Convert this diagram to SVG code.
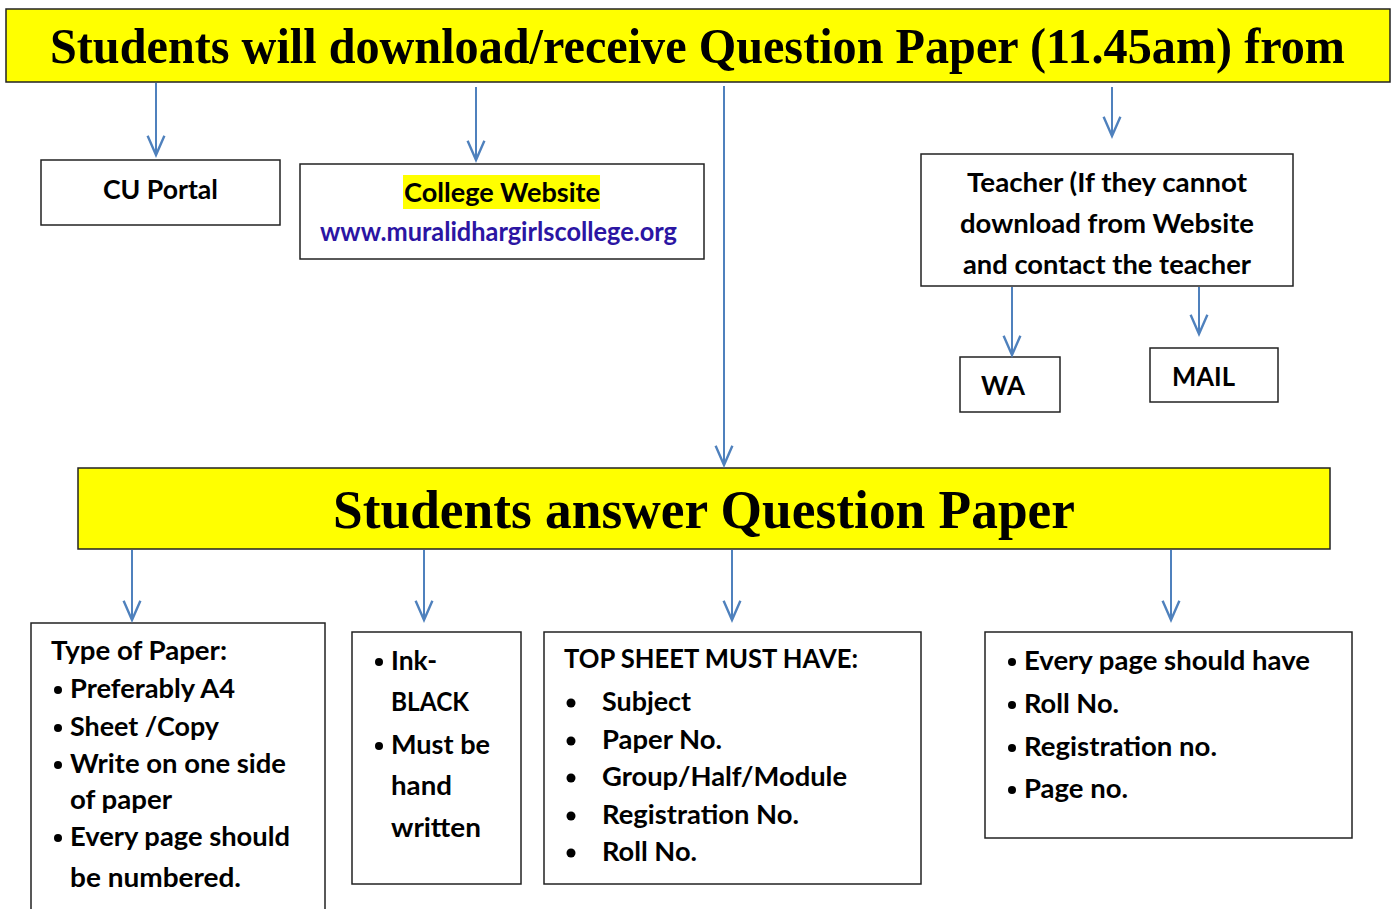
<svg xmlns="http://www.w3.org/2000/svg" width="1392" height="909" viewBox="0 0 1392 909">
<style>
.banner{fill:#ffff00;stroke:#222;stroke-width:1.5}
.box{fill:#fff;stroke:#222;stroke-width:1.5}
.hd{font-family:"Liberation Serif","Times New Roman",serif;font-weight:bold;fill:#000}
.t{font-family:Lato,"Liberation Sans",sans-serif;font-weight:bold;font-size:26px;fill:#000}
.url{fill:#2b15a3}
.bul{fill:#000}
.conn line{stroke:#4f81bd;stroke-width:2;fill:none}
</style>
<defs>
<marker id="ah" markerUnits="userSpaceOnUse" markerWidth="24" markerHeight="24" refX="0" refY="0" viewBox="-18 -10 20 20" orient="auto" overflow="visible">
<path d="M-16,-7 L0,0 L-16,7" fill="none" stroke="#4f81bd" stroke-width="2"/>
</marker>
</defs>
<rect width="1392" height="909" fill="#fff"/>

<g id="top-banner">
<rect class="banner" x="6" y="9" width="1384" height="73"/>
<text class="hd" x="50" y="63" font-size="50" textLength="1295" lengthAdjust="spacingAndGlyphs">Students will download/receive Question Paper (11.45am) from</text>
</g>

<g id="cu-portal">
<rect class="box" x="41" y="160" width="239" height="65"/>
<text class="t" x="103" y="199" textLength="115" lengthAdjust="spacingAndGlyphs">CU Portal</text>
</g>

<g id="college-website">
<rect class="box" x="300" y="164" width="404" height="95"/>
<rect x="403" y="175" width="197" height="34" fill="#ffff00"/>
<text class="t" x="404" y="202" textLength="196" lengthAdjust="spacingAndGlyphs">College Website</text>
<text class="t url" x="320" y="241" font-size="24" textLength="357" lengthAdjust="spacingAndGlyphs">www.muralidhargirlscollege.org</text>
</g>

<g id="teacher">
<rect class="box" x="921" y="154" width="372" height="132"/>
<text class="t" x="967" y="192" textLength="280" lengthAdjust="spacingAndGlyphs">Teacher (If they cannot</text>
<text class="t" x="960" y="233" textLength="294" lengthAdjust="spacingAndGlyphs">download from Website</text>
<text class="t" x="963" y="274" textLength="288" lengthAdjust="spacingAndGlyphs">and contact the teacher</text>
</g>

<g id="wa">
<rect class="box" x="960" y="357" width="100" height="55"/>
<text class="t" x="981" y="395" textLength="44" lengthAdjust="spacingAndGlyphs">WA</text>
</g>

<g id="mail">
<rect class="box" x="1150" y="348" width="128" height="54"/>
<text class="t" x="1172" y="386" textLength="63" lengthAdjust="spacingAndGlyphs">MAIL</text>
</g>

<g id="answer-banner">
<rect class="banner" x="78" y="468" width="1252" height="81"/>
<text class="hd" x="333" y="528" font-size="54" textLength="742" lengthAdjust="spacingAndGlyphs">Students answer Question Paper</text>
</g>

<g id="type-of-paper">
<rect class="box" x="31" y="623" width="294" height="300"/>
<text class="t" x="51" y="660" textLength="176" lengthAdjust="spacingAndGlyphs">Type of Paper:</text>
<circle class="bul" cx="58" cy="690" r="4"/>
<text class="t" x="70" y="698" textLength="165" lengthAdjust="spacingAndGlyphs">Preferably A4</text>
<circle class="bul" cx="58" cy="728" r="4"/>
<text class="t" x="70" y="736" textLength="149" lengthAdjust="spacingAndGlyphs">Sheet /Copy</text>
<circle class="bul" cx="58" cy="765" r="4"/>
<text class="t" x="70" y="773" textLength="216" lengthAdjust="spacingAndGlyphs">Write on one side</text>
<text class="t" x="70" y="809" textLength="102" lengthAdjust="spacingAndGlyphs">of paper</text>
<circle class="bul" cx="58" cy="838" r="4"/>
<text class="t" x="70" y="846" textLength="220" lengthAdjust="spacingAndGlyphs">Every page should</text>
<text class="t" x="70" y="887" textLength="171" lengthAdjust="spacingAndGlyphs">be numbered.</text>
</g>

<g id="ink">
<rect class="box" x="352" y="632" width="169" height="252"/>
<circle class="bul" cx="379" cy="662" r="4"/>
<text class="t" x="391" y="670" textLength="46" lengthAdjust="spacingAndGlyphs">Ink-</text>
<text class="t" x="391" y="711" textLength="78" lengthAdjust="spacingAndGlyphs">BLACK</text>
<circle class="bul" cx="379" cy="746" r="4"/>
<text class="t" x="391" y="754" textLength="99" lengthAdjust="spacingAndGlyphs">Must be</text>
<text class="t" x="391" y="795" textLength="61" lengthAdjust="spacingAndGlyphs">hand</text>
<text class="t" x="391" y="837" textLength="90" lengthAdjust="spacingAndGlyphs">written</text>
</g>

<g id="top-sheet">
<rect class="box" x="544" y="632" width="377" height="252"/>
<text class="t" x="564" y="668" textLength="294" lengthAdjust="spacingAndGlyphs">TOP SHEET MUST HAVE:</text>
<circle class="bul" cx="571" cy="703" r="4.5"/>
<text class="t" x="602" y="711" textLength="89" lengthAdjust="spacingAndGlyphs">Subject</text>
<circle class="bul" cx="571" cy="741" r="4.5"/>
<text class="t" x="602" y="749" textLength="120" lengthAdjust="spacingAndGlyphs">Paper No.</text>
<circle class="bul" cx="571" cy="778" r="4.5"/>
<text class="t" x="602" y="786" textLength="245" lengthAdjust="spacingAndGlyphs">Group/Half/Module</text>
<circle class="bul" cx="571" cy="816" r="4.5"/>
<text class="t" x="602" y="824" textLength="197" lengthAdjust="spacingAndGlyphs">Registration No.</text>
<circle class="bul" cx="571" cy="853" r="4.5"/>
<text class="t" x="602" y="861" textLength="95" lengthAdjust="spacingAndGlyphs">Roll No.</text>
</g>

<g id="every-page">
<rect class="box" x="985" y="632" width="367" height="206"/>
<circle class="bul" cx="1012" cy="662" r="4"/>
<text class="t" x="1024" y="670" textLength="286" lengthAdjust="spacingAndGlyphs">Every page should have</text>
<circle class="bul" cx="1012" cy="705" r="4"/>
<text class="t" x="1024" y="713" textLength="95" lengthAdjust="spacingAndGlyphs">Roll No.</text>
<circle class="bul" cx="1012" cy="748" r="4"/>
<text class="t" x="1024" y="756" textLength="193" lengthAdjust="spacingAndGlyphs">Registration no.</text>
<circle class="bul" cx="1012" cy="790" r="4"/>
<text class="t" x="1024" y="798" textLength="104" lengthAdjust="spacingAndGlyphs">Page no.</text>
</g>

<g id="connectors" class="conn">
<line x1="156" y1="83" x2="156" y2="155" marker-end="url(#ah)"/>
<line x1="476" y1="87" x2="476" y2="160" marker-end="url(#ah)"/>
<line x1="724" y1="86" x2="724" y2="465" marker-end="url(#ah)"/>
<line x1="1112" y1="87" x2="1112" y2="136" marker-end="url(#ah)"/>
<line x1="1012" y1="287" x2="1012" y2="355" marker-end="url(#ah)"/>
<line x1="1199" y1="287" x2="1199" y2="334" marker-end="url(#ah)"/>
<line x1="132" y1="550" x2="132" y2="620" marker-end="url(#ah)"/>
<line x1="424" y1="550" x2="424" y2="620" marker-end="url(#ah)"/>
<line x1="732" y1="550" x2="732" y2="620" marker-end="url(#ah)"/>
<line x1="1171" y1="550" x2="1171" y2="620" marker-end="url(#ah)"/>
</g>
</svg>
